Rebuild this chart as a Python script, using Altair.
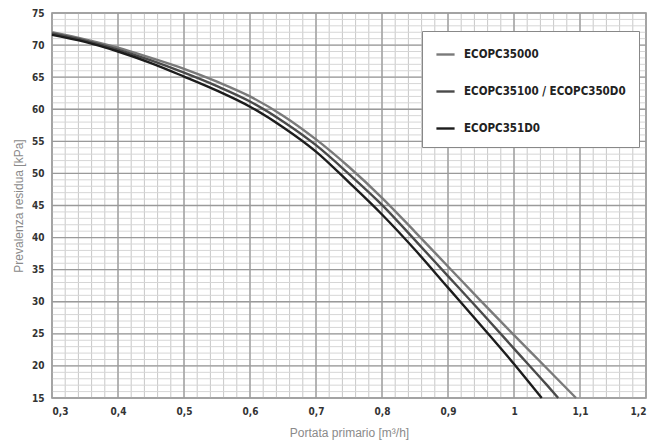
import altair as alt
import pandas as pd

# ---- data ----
series_names = ["ECOPC35000", "ECOPC35100 / ECOPC350D0", "ECOPC351D0"]
series_colors = ["#7a7a7a", "#4a4a4a", "#1c1c1c"]

x_35000 = [0.30, 0.35, 0.40, 0.45, 0.50, 0.55, 0.60, 0.65, 0.70, 0.75, 0.80, 0.85, 0.90, 0.95, 1.00, 1.05, 1.094]
y_35000 = [72.0, 70.9, 69.6, 68.0, 66.3, 64.3, 62.0, 59.0, 55.3, 51.0, 46.2, 40.9, 35.5, 30.1, 24.8, 19.6, 15.0]

x_35100 = [0.30, 0.35, 0.40, 0.45, 0.50, 0.55, 0.60, 0.65, 0.70, 0.75, 0.80, 0.85, 0.90, 0.95, 1.00, 1.05, 1.067]
y_35100 = [71.8, 70.7, 69.3, 67.6, 65.7, 63.6, 61.2, 58.1, 54.4, 49.9, 45.1, 39.6, 34.0, 28.4, 22.7, 17.0, 15.0]

x_351D0 = [0.30, 0.35, 0.40, 0.45, 0.50, 0.55, 0.60, 0.65, 0.70, 0.75, 0.80, 0.85, 0.90, 0.95, 1.00, 1.042]
y_351D0 = [71.6, 70.5, 69.0, 67.2, 65.1, 62.9, 60.4, 57.2, 53.4, 48.6, 43.6, 38.1, 32.2, 26.3, 20.3, 15.0]

x_major_ticks = [0.3, 0.4, 0.5, 0.6, 0.7, 0.8, 0.9, 1.0, 1.1, 1.2]
y_major_ticks = [15, 20, 25, 30, 35, 40, 45, 50, 55, 60, 65, 70, 75]
x_minor_ticks = [round(0.3 + 0.02 * i, 2) for i in range(46)]
y_minor_ticks = list(range(15, 76))

x_title = "Portata primario [m³/h]"
y_title = "Prevalenza residua [kPa]"

# ---- tables ----
rows = []
for name, xs, ys in [(series_names[0], x_35000, y_35000),
                     (series_names[1], x_35100, y_35100),
                     (series_names[2], x_351D0, y_351D0)]:
    for i, (a, b) in enumerate(zip(xs, ys)):
        rows.append({"serie": name, "q": a, "p": b, "i": i})
df = pd.DataFrame(rows)

minor_x_df = pd.DataFrame({"v": x_minor_ticks})
minor_y_df = pd.DataFrame({"v": y_minor_ticks})
major_x_df = pd.DataFrame({"v": x_major_ticks})
major_y_df = pd.DataFrame({"v": y_major_ticks})

xscale = alt.Scale(domain=[0.3, 1.2], nice=False, zero=False)
yscale = alt.Scale(domain=[15, 75], nice=False, zero=False)

label_font = "Liberation Sans Narrow, Arial Narrow, DejaVu Sans Condensed, Liberation Sans, sans-serif"
title_font = "Liberation Sans, Arial, sans-serif"

x_axis = alt.Axis(values=x_major_ticks, grid=False, ticks=False, domain=False,
                  labelExpr="replace(format(datum.value, '.1~f'), '.', ',')",
                  labelFont=label_font, labelFontWeight="bold", labelFontSize=10,
                  labelColor="#333333", labelPadding=8,
                  title=x_title, titleFont=title_font, titleFontSize=12,
                  titleFontWeight="normal", titleColor="#8a8a8a", titlePadding=11)
y_axis = alt.Axis(values=y_major_ticks, grid=False, ticks=False, domain=False,
                  labelFont=label_font, labelFontWeight="bold", labelFontSize=10,
                  labelColor="#333333", labelPadding=8,
                  title=y_title, titleFont=title_font, titleFontSize=12,
                  titleFontWeight="normal", titleColor="#8a8a8a", titlePadding=6)

minor_x = alt.Chart(minor_x_df).mark_rule(color="#c8c8c8", strokeWidth=1).encode(
    x=alt.X("v:Q", scale=xscale, axis=x_axis))
minor_y = alt.Chart(minor_y_df).mark_rule(color="#d6d6d6", strokeWidth=1).encode(
    y=alt.Y("v:Q", scale=yscale, axis=y_axis))
major_x = alt.Chart(major_x_df).mark_rule(color="#9a9a9a", strokeWidth=1.3).encode(
    x=alt.X("v:Q", scale=xscale, axis=x_axis))
major_y = alt.Chart(major_y_df).mark_rule(color="#9a9a9a", strokeWidth=1.3).encode(
    y=alt.Y("v:Q", scale=yscale, axis=y_axis))

lines = alt.Chart(df).mark_line(interpolate="monotone", strokeWidth=2.4).encode(
    x=alt.X("q:Q", scale=xscale, axis=x_axis),
    y=alt.Y("p:Q", scale=yscale, axis=y_axis),
    order="i:Q",
    color=alt.Color("serie:N",
                    scale=alt.Scale(domain=series_names, range=series_colors),
                    sort=series_names,
                    legend=alt.Legend(orient="none", legendX=370, legendY=18,
                                      title=None, symbolType="stroke",
                                      symbolSize=330, symbolStrokeWidth=2.4,
                                      labelFont=label_font, labelFontWeight="bold",
                                      labelFontSize=11.5, labelColor="#222222",
                                      labelLimit=300, labelOffset=8,
                                      rowPadding=21, padding=13,
                                      fillColor="white", strokeColor="#888888",
                                      cornerRadius=0)))

chart = alt.layer(minor_x, minor_y, major_x, major_y, lines).properties(
    width=594, height=385,
    autosize=alt.AutoSizeParams(type="none"),
    padding={"left": 52, "top": 13, "right": 19, "bottom": 43},
    background="white",
).configure_view(stroke="#8c8c8c", strokeWidth=1.5)

chart.save("out.html", embed_options={"renderer": "svg", "actions": False})
